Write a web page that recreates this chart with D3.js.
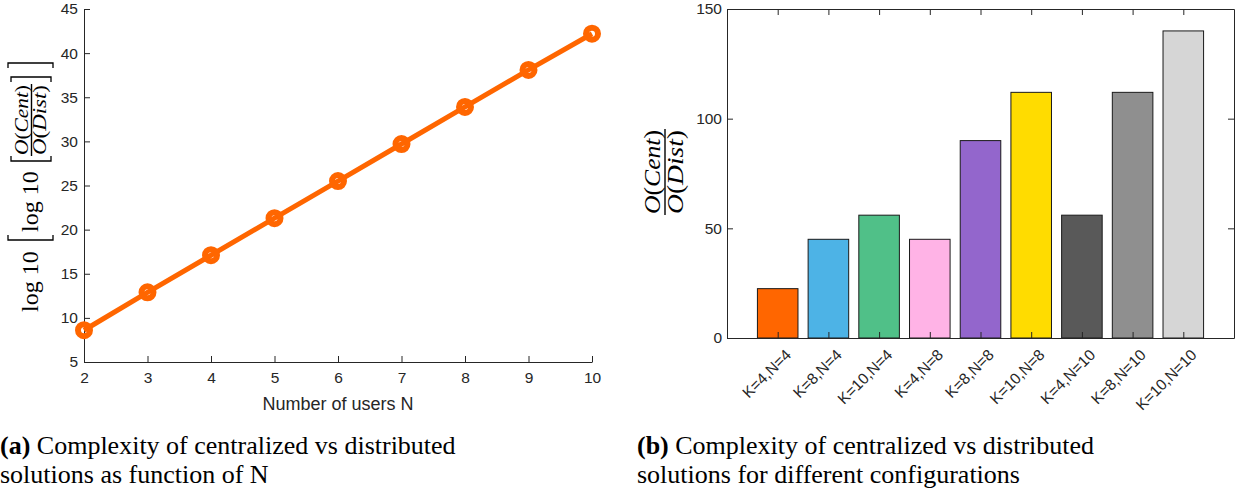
<!DOCTYPE html>
<html>
<head>
<meta charset="utf-8">
<script src="https://cdn.jsdelivr.net/npm/d3@7"></script>
<style>
  body { margin: 0; background: #fff; }
  svg { display: block; }
  .tick text { font-family: "Liberation Sans", Arial, sans-serif; fill: #262626; }
  .tick line, .domain { stroke: #262626; }
</style>
</head>
<body>
<div id="chart"></div>
<script>
// data for (a): number of users vs log10 log10 ratio
const usersN = [2, 3, 4, 5, 6, 7, 8, 9, 10];
const logRatio = [8.6, 12.9, 17.1, 21.3, 25.5, 29.7, 33.9, 38.1, 42.2];
const yTicksA = [5, 10, 15, 20, 25, 30, 35, 40, 45];

// data for (b): configurations
const configs = ["K=4,N=4", "K=8,N=4", "K=10,N=4", "K=4,N=8", "K=8,N=8", "K=10,N=8", "K=4,N=10", "K=8,N=10", "K=10,N=10"];
const ratios = [22.5, 45, 56, 45, 90, 112, 56, 112, 140];
const barColors = ["#FF6600", "#4DB3E6", "#50C088", "#FFB3E6", "#9366CC", "#FFDC00", "#595959", "#8F8F8F", "#D6D6D6"];
const yTicksB = [0, 50, 100, 150];

const width = 1246, height = 495;
const serif = '"Liberation Serif", "Times New Roman", serif';

let svg = d3.select("#chart").append("svg")
    .attr("width", width)
    .attr("height", height);

// ---------- chart (a) ----------
let xA = d3.scaleLinear().domain([2, 10]).range([84, 592]);
let yA = d3.scaleLinear().domain([5, 45]).range([362, 9]);

svg.append("g")
    .attr("transform", "translate(0,362)")
    .call(d3.axisBottom(xA).tickValues(usersN).tickFormat(d3.format("d")).tickSizeInner(-6).tickSizeOuter(0).tickPadding(10))
    .call(g => g.selectAll("text").style("font-size", "15.5px"));

svg.append("g")
    .attr("transform", "translate(84,0)")
    .call(d3.axisLeft(yA).tickValues(yTicksA).tickSizeInner(-6).tickSizeOuter(0).tickPadding(6))
    .call(g => g.selectAll("text").style("font-size", "15.5px"));

svg.append("text")
    .attr("x", (xA(2) + xA(10)) / 2)
    .attr("y", 410)
    .attr("text-anchor", "middle")
    .style("font-family", '"Liberation Sans", Arial, sans-serif')
    .style("font-size", "18px")
    .style("fill", "#262626")
    .text("Number of users N");

let line = d3.line().x((d, i) => xA(usersN[i])).y(d => yA(d));
svg.append("path")
    .datum(logRatio)
    .attr("d", line)
    .attr("fill", "none")
    .attr("stroke", "#FF6600")
    .attr("stroke-width", 5);

svg.selectAll(".marker")
    .data(logRatio)
    .enter()
    .append("circle")
    .attr("class", "marker")
    .attr("cx", (d, i) => xA(usersN[i]))
    .attr("cy", d => yA(d))
    .attr("r", 6)
    .attr("fill", "none")
    .attr("stroke", "#FF6600")
    .attr("stroke-width", 6);

// draws a square bracket in a rotated label frame
function bracket(g, x, y0, y1, open) {
    let s = open ? 5 : -5;
    g.append("path")
        .attr("d", `M${x + s},${y0} H${x} V${y1} H${x + s}`)
        .attr("fill", "none")
        .attr("stroke", "#000")
        .attr("stroke-width", 1.3);
}

// math-like text: O(Cent) with italic letters
function mathText(g, x, y, size, letters, len) {
    let t = g.append("text")
        .attr("x", x - len / 2)
        .attr("y", y)
        .attr("textLength", len)
        .attr("lengthAdjust", "spacingAndGlyphs")
        .style("font-family", serif)
        .style("font-size", size + "px");
    t.append("tspan").style("font-style", "italic").text("O");
    t.append("tspan").text("(");
    t.append("tspan").style("font-style", "italic").text(letters);
    t.append("tspan").text(")");
    return t;
}

// fraction centred at local x = cx, bar at local y = by
function fraction(g, cx, by, size, gap, len) {
    mathText(g, cx, by - gap, size, "Cent", len - 2);
    mathText(g, cx, by + size * 0.8, size, "Dist", len - 2);
    g.append("line")
        .attr("x1", cx - len / 2).attr("x2", cx + len / 2)
        .attr("y1", by).attr("y2", by)
        .attr("stroke", "#000")
        .attr("stroke-width", 1.4);
}

// y label of (a): log10 [ log10 [ O(Cent)/O(Dist) ] ]
let labA = svg.append("g").attr("transform", "translate(0,312) rotate(-90)");
labA.append("text").attr("x", 0).attr("y", 38)
    .style("font-family", serif).style("font-size", "24px").text("log 10");
bracket(labA, 72, 8, 53, true);
labA.append("text").attr("x", 80).attr("y", 38)
    .style("font-family", serif).style("font-size", "24px").text("log 10");
bracket(labA, 151, 11, 51, true);
fraction(labA, 192, 31.5, 18.5, 4, 72);
bracket(labA, 235, 11, 51, false);
bracket(labA, 249, 8, 53, false);

// ---------- chart (b) ----------
let xB = d3.scaleLinear().domain([0, 10]).range([727, 1234]);
let yB = d3.scaleLinear().domain([0, 150]).range([338, 9]);
let catIdx = configs.map((c, i) => i + 1);

svg.append("g")
    .attr("transform", "translate(0,9)")
    .call(d3.axisTop(xB).tickValues(catIdx).tickFormat("").tickSizeInner(-6).tickSizeOuter(0));

svg.append("g")
    .attr("transform", "translate(1234,0)")
    .call(d3.axisRight(yB).tickValues(yTicksB).tickFormat("").tickSizeInner(-6).tickSizeOuter(0));

svg.append("g")
    .attr("transform", "translate(727,0)")
    .call(d3.axisLeft(yB).tickValues(yTicksB).tickSizeInner(-6).tickSizeOuter(0).tickPadding(5))
    .call(g => g.selectAll("text").style("font-size", "15.5px"));

let barW = (xB(1) - xB(0)) * 0.8;
svg.selectAll(".bar")
    .data(ratios)
    .enter()
    .append("rect")
    .attr("class", "bar")
    .attr("x", (d, i) => xB(catIdx[i]) - barW / 2)
    .attr("y", d => yB(d))
    .attr("width", barW)
    .attr("height", d => yB(0) - yB(d))
    .attr("fill", (d, i) => barColors[i])
    .attr("stroke", "#1a1a1a")
    .attr("stroke-width", 1);

let xAxisB = svg.append("g")
    .attr("transform", "translate(0,338)")
    .call(d3.axisBottom(xB).tickValues(catIdx).tickFormat(i => configs[i - 1]).tickSizeInner(-6).tickSizeOuter(0));
xAxisB.selectAll("text")
    .style("font-size", "15.5px")
    .attr("text-anchor", "end")
    .attr("dy", "0.35em")
    .attr("transform", "translate(10,14) rotate(-45)")
    .attr("y", 0)
    .attr("x", 0);

// y label of (b)
let labB = svg.append("g").attr("transform", "translate(0,172) rotate(-90)");
fraction(labB, 0, 665, 23, 5, 86);

// ---------- captions ----------
function caption(x, tag, lines) {
    let t = svg.append("text")
        .attr("x", x)
        .attr("y", 454)
        .style("font-family", serif)
        .style("font-size", "26px")
        .style("fill", "#000");
    t.append("tspan").style("font-weight", "bold").text(tag);
    t.append("tspan").text(" " + lines[0]);
    svg.append("text")
        .attr("x", x)
        .attr("y", 483)
        .style("font-family", serif)
        .style("font-size", "26px")
        .style("fill", "#000")
        .text(lines[1]);
}
caption(0, "(a)", ["Complexity of centralized vs distributed", "solutions as function of N"]);
caption(637, "(b)", ["Complexity of centralized vs distributed", "solutions for different configurations"]);
</script>
</body>
</html>
